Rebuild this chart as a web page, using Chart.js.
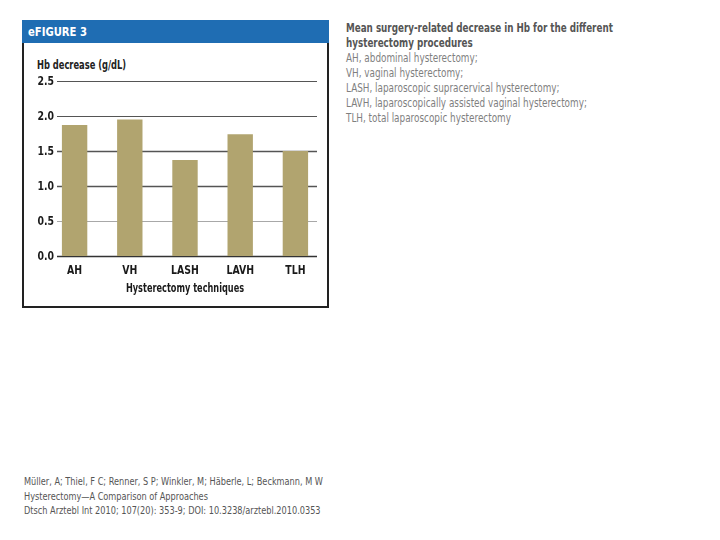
<!DOCTYPE html>
<html>
<head>
<meta charset="utf-8">
<script src="https://cdn.jsdelivr.net/npm/chart.js@4/dist/chart.umd.min.js"></script>
<style>
  body { margin: 0; width: 720px; height: 540px; background: #fff; position: relative; overflow: hidden;
         font-family: "DejaVu Sans Condensed", "Liberation Sans", Arial, sans-serif; }
  .sq { transform-origin: 0 0; white-space: nowrap; }
  #box { position: absolute; left: 22px; top: 20px; width: 303px; height: 286px; border: 2px solid #222; border-top: none; }
  #bar { position: absolute; left: -2px; top: 0; width: 307px; height: 23px; background: #1f6db3; }
  #head { position: absolute; left: 6px; top: 0; color: #fff; font-weight: bold; font-size: 13px; line-height: 24px;
          transform: scaleX(0.86); }
  #ytitle { position: absolute; left: 13px; top: 37px; font-size: 12.5px; font-weight: bold; color: #222;
            transform: scaleX(0.74); }
  #wrap { position: absolute; left: 1px; top: 23px; width: 305px; height: 265px; }
  #sidehead { position: absolute; left: 346px; top: 20px; font-size: 12.5px; line-height: 15px; font-weight: bold; color: #555;
              transform: scaleX(0.78); }
  #side { position: absolute; left: 346px; top: 51px; font-size: 12px; line-height: 15px; color: #7f7f7f;
          transform: scaleX(0.82); }
  #cite { position: absolute; left: 24px; top: 475px; font-size: 10px; line-height: 14.5px; color: #555;
          transform: scaleX(0.91); }
</style>
</head>
<body>
<div id="box">
  <div id="bar"><div id="head" class="sq">eFIGURE 3</div></div>
  <div id="ytitle" class="sq">Hb decrease (g/dL)</div>
  <div id="wrap"><canvas id="myChart"></canvas></div>
</div>
<div id="sidehead" class="sq">Mean surgery-related decrease in Hb for the different<br>hysterectomy procedures</div>
<div id="side" class="sq">
  AH, abdominal hysterectomy;<br>
  VH, vaginal hysterectomy;<br>
  LASH, laparoscopic supracervical hysterectomy;<br>
  LAVH, laparoscopically assisted vaginal hysterectomy;<br>
  TLH, total laparoscopic hysterectomy
</div>
<div id="cite" class="sq">
  Müller, A; Thiel, F C; Renner, S P; Winkler, M; Häberle, L; Beckmann, M W<br>
  Hysterectomy—A Comparison of Approaches<br>
  Dtsch Arztebl Int 2010; 107(20): 353-9; DOI: 10.3238/arztebl.2010.0353
</div>
<script>
var techniques = ['AH', 'VH', 'LASH', 'LAVH', 'TLH']
var hbDecrease = [1.87, 1.95, 1.37, 1.74, 1.50]
var yTicks = [0, 0.5, 1.0, 1.5, 2.0, 2.5]
var xTitle = 'Hysterectomy techniques'

var labelFont = 'bold 13px "DejaVu Sans Condensed", "Liberation Sans", Arial, sans-serif'

// squeezed text, the original uses a narrow font we do not have
function squeezed(c, text, x, y, align, sx) {
    c.save()
    c.translate(x, y)
    c.scale(sx || 0.8, 1)
    c.textAlign = align
    c.textBaseline = 'middle'
    c.fillText(text, 0, 0)
    c.restore()
}

// gridlines only span part of the plot in the original, so draw them by hand
var gridPlugin = {
    id: 'shortGrid',
    beforeDatasetsDraw: function(chart) {
        let c = chart.ctx
        let y = chart.scales.y
        let a = chart.chartArea
        c.save()
        yTicks.forEach(function(v) {
            let py = Math.round(y.getPixelForValue(v)) + 0.5
            c.beginPath()
            c.strokeStyle = v === 0.5 ? '#a8a8a8' : (v === 0 ? '#333' : '#555')
            c.lineWidth = (v === 0 || v === 1 || v === 1.5) ? 1.6 : 1
            c.moveTo(a.left + 10, py)
            c.lineTo(a.right - 6, py)
            c.stroke()
        })
        c.restore()
    },
    afterDraw: function(chart) {
        let c = chart.ctx
        let x = chart.scales.x
        let y = chart.scales.y
        let a = chart.chartArea
        c.save()
        c.font = labelFont
        c.fillStyle = '#1a1a1a'
        yTicks.forEach(function(v) {
            squeezed(c, v.toFixed(1), a.left + 7, y.getPixelForValue(v) + 1, 'right')
        })
        techniques.forEach(function(t, i) {
            squeezed(c, t, x.getPixelForValue(i), a.bottom + 15, 'center')
        })
        squeezed(c, xTitle, (a.left + a.right) / 2, a.bottom + 33, 'center', 0.7)
        c.restore()
    }
}

var ctx = document.getElementById('myChart').getContext('2d')
var chart = new Chart(ctx, {
    type: 'bar',
    data: {
        labels: techniques,
        datasets: [{
            label: 'Hb decrease',
            data: hbDecrease,
            backgroundColor: '#b1a46f',
            categoryPercentage: 1,
            barPercentage: 0.46
        }]
    },
    options: {
        responsive: true,
        maintainAspectRatio: false,
        animation: false,
        layout: { padding: { left: 0, right: 7, top: 38, bottom: 0 } },
        plugins: { legend: { display: false }, tooltip: { enabled: false } },
        scales: {
            x: {
                offset: true,
                grid: { display: false, drawTicks: false },
                border: { display: false },
                ticks: { display: false },
                afterFit: function(s) { s.height = 52 }
            },
            y: {
                min: 0,
                max: 2.5,
                grid: { display: false, drawTicks: false },
                border: { display: false },
                ticks: { display: false, stepSize: 0.5 },
                afterFit: function(s) { s.width = 22 }
            }
        }
    },
    plugins: [gridPlugin]
})
</script>
</body>
</html>
